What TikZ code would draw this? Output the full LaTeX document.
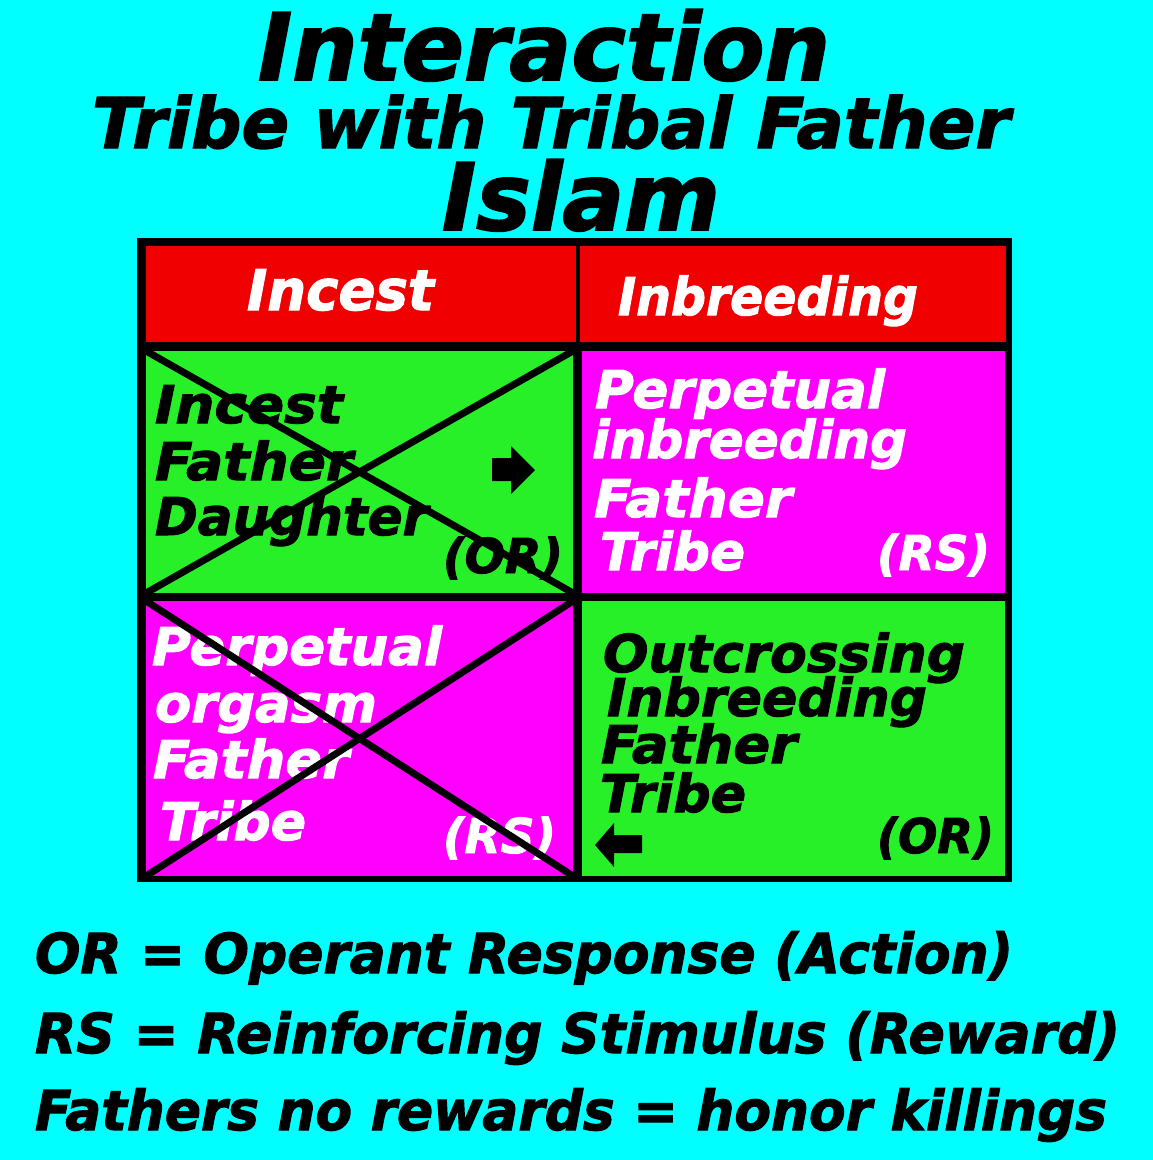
\documentclass[tikz,border=0pt]{standalone}
\usepackage{graphicx}
\usepackage{fontspec}
\setmainfont{DejaVu Sans}[BoldItalicFeatures={FakeBold=2}]
\definecolor{bgcyan}{RGB}{0,255,255}
\definecolor{hdrred}{RGB}{240,0,0}
\definecolor{cellgreen}{RGB}{40,240,40}
\definecolor{cellmag}{RGB}{255,0,255}
\newcommand{\wfit}[2]{\resizebox{#1pt}{\height}{#2}}
\tikzset{
  lbl/.style={inner sep=0pt, outer sep=0pt, anchor=base west,
    font=\fontsize{#1}{#1}\selectfont\bfseries\itshape},
  cellbox/.style={rectangle, inner sep=0pt, outer sep=0pt, anchor=north west, draw=none},
  xline/.style={line width=7pt, black},
  blockarrow/.style={fill=black, draw=none}
}
\begin{document}
\begin{tikzpicture}[x=1pt,y=-1pt]
\fill[bgcyan] (0,0) rectangle (1153,1160);
\useasboundingbox (0,0) rectangle (1153,1160);

% title
\node[lbl=93] (title1) at (258,80) {\wfit{572}{Interaction}};
\node[lbl=70] (title2) at (92,148) {\wfit{918}{Tribe with Tribal Father}};
\node[lbl=93] (title3) at (442,230) {\wfit{278}{Islam}};

% table frame
\fill[black] (137,238) rectangle (1012,882);

% cells
\node[cellbox, fill=hdrred, minimum width=430pt, minimum height=96pt] (hdrL) at (146,246) {};
\node[cellbox, fill=hdrred, minimum width=426pt, minimum height=96pt] (hdrR) at (580,246) {};
\node[cellbox, fill=cellgreen, minimum width=427pt, minimum height=242pt] (c11) at (146,351) {};
\node[cellbox, fill=cellmag, minimum width=423pt, minimum height=242pt] (c12) at (582,351) {};
\node[cellbox, fill=cellmag, minimum width=427pt, minimum height=275pt] (c21) at (146,601) {};
\node[cellbox, fill=cellgreen, minimum width=423pt, minimum height=275pt] (c22) at (582,601) {};

% headers
\node[lbl=56, text=white] (h1) at (247,310) {\wfit{187}{Incest}};
\node[lbl=52, text=white] (h2) at (618,315) {\wfit{300}{Inbreeding}};

% cell 11 (black text)
\node[lbl=52] (a1) at (155,423) {\wfit{188}{Incest}};
\node[lbl=52] (a2) at (155,480) {\wfit{198}{Father}};
\node[lbl=52] (a3) at (155,535) {\wfit{273}{Daughter}};
\node[lbl=48] (a4) at (443,573) {\wfit{120}{(OR)}};
\fill[blockarrow] (492,458) -- (511,458) -- (511,446) -- (535,470) -- (511,494) -- (511,481) -- (492,481) -- cycle;

% cell 12 (white text)
\node[lbl=52, text=white] (b1) at (595,408) {\wfit{290}{Perpetual}};
\node[lbl=52, text=white] (b2) at (592,458) {\wfit{315}{inbreeding}};
\node[lbl=52, text=white] (b3) at (594,517) {\wfit{198}{Father}};
\node[lbl=52, text=white] (b4) at (600,570) {\wfit{145}{Tribe}};
\node[lbl=48, text=white] (b5) at (877,570) {\wfit{113}{(RS)}};

% cell 21 (white text)
\node[lbl=52, text=white] (d1) at (152,665) {\wfit{290}{Perpetual}};
\node[lbl=52, text=white] (d2) at (155,722) {\wfit{222}{orgasm}};
\node[lbl=52, text=white] (d3) at (153,778) {\wfit{196}{Father}};
\node[lbl=52, text=white] (d4) at (160,840) {\wfit{146}{Tribe}};
\node[lbl=48, text=white] (d5) at (443,853) {\wfit{113}{(RS)}};

% cell 22 (black text)
\node[lbl=52] (e1) at (603,672) {\wfit{362}{Outcrossing}};
\node[lbl=52] (e2) at (607,716) {\wfit{320}{Inbreeding}};
\node[lbl=52] (e3) at (601,763) {\wfit{196}{Father}};
\node[lbl=52] (e4) at (600,812) {\wfit{146}{Tribe}};
\node[lbl=48] (e5) at (877,853) {\wfit{117}{(OR)}};
\fill[blockarrow] (642,835) -- (614,835) -- (614,823) -- (595,845) -- (614,867) -- (614,853) -- (642,853) -- cycle;

% crosses
\draw[xline] (c11.north west) -- (c11.south east);
\draw[xline] (c11.south west) -- (c11.north east);
\draw[xline] (c21.north west) -- (c21.south east);
\draw[xline] (c21.south west) -- (c21.north east);

% legend
\node[lbl=55] (l1) at (35,973) {\wfit{978}{OR = Operant Response (Action)}};
\node[lbl=55] (l2) at (35,1053) {\wfit{1085}{RS = Reinforcing Stimulus (Reward)}};
\node[lbl=55] (l3) at (35,1130) {\wfit{1072}{Fathers no rewards = honor killings}};
\end{tikzpicture}
\end{document}
